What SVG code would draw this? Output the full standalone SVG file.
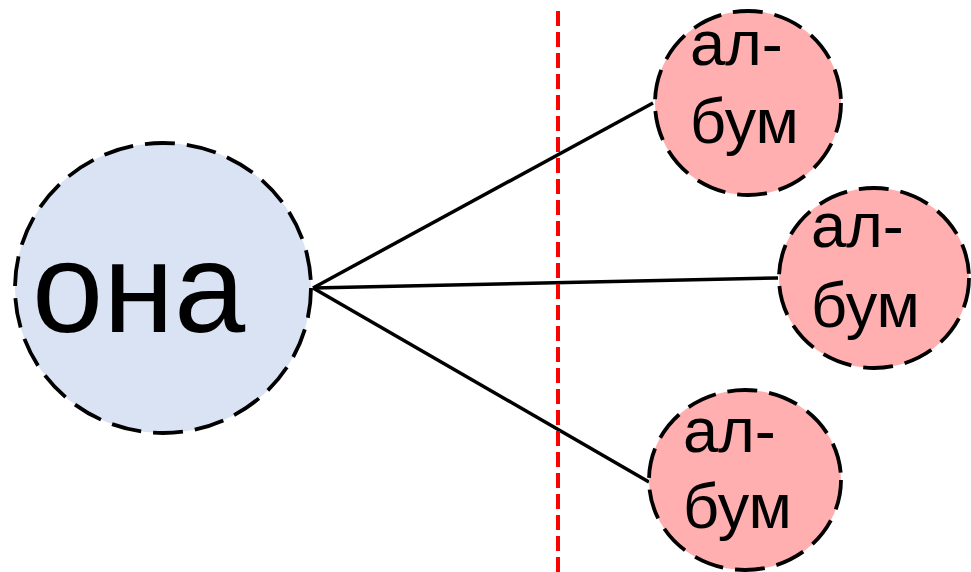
<svg xmlns="http://www.w3.org/2000/svg" width="971" height="572" viewBox="0 0 971 572">
<style>
.node{stroke:#000;stroke-width:3.8;stroke-dasharray:30 12}
.blue{fill:#dae3f3}
.pink{fill:#ffafaf}
.lbl{font-family:"Liberation Sans",Arial,sans-serif;fill:#000}
.small{font-size:63px}
.big{font-size:128px}
.edge{stroke:#000;stroke-width:3.5;fill:none}
</style>
<rect width="971" height="572" fill="#fff"/>
<g id="connectors">
<line class="edge" x1="313" y1="288" x2="653" y2="103"/>
<line class="edge" x1="313" y1="288" x2="778" y2="278"/>
<line class="edge" x1="313" y1="288" x2="649" y2="482"/>
</g>
<g id="divider">
<line x1="558" y1="11" x2="558" y2="572" stroke="#ff0000" stroke-width="4" stroke-dasharray="15 6"/>
</g>
<g id="n-ona">
<ellipse class="node blue" cx="163" cy="288" rx="148" ry="145"/>
<text class="lbl big" x="32" y="332">она</text>
</g>
<g id="n-album1">
<ellipse class="node pink" cx="748" cy="103" rx="93" ry="92"/>
<text class="lbl small" x="690" y="65">ал-</text>
<text class="lbl small" x="690" y="143">бум</text>
</g>
<g id="n-album2">
<ellipse class="node pink" cx="874" cy="278" rx="95" ry="90"/>
<text class="lbl small" x="811" y="247">ал-</text>
<text class="lbl small" x="811" y="327">бум</text>
</g>
<g id="n-album3">
<ellipse class="node pink" cx="745" cy="480" rx="96" ry="90"/>
<text class="lbl small" x="683" y="452">ал-</text>
<text class="lbl small" x="683" y="528">бум</text>
</g>
</svg>
